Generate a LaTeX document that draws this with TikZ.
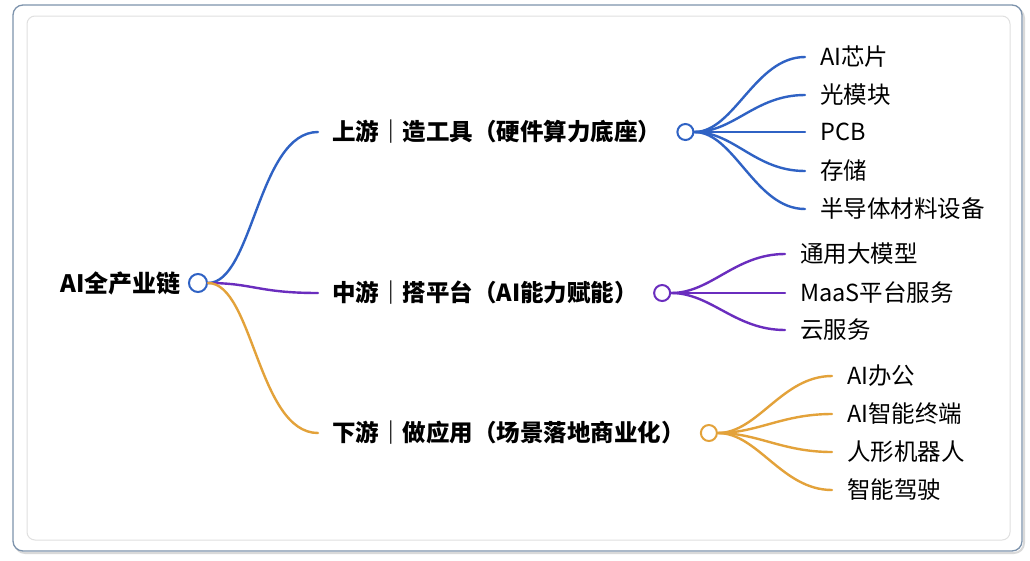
\documentclass[tikz,border=0pt]{standalone}
\usepackage{fontspec}
\setmainfont{Noto Sans CJK SC}
\usetikzlibrary{positioning}
\definecolor{upblue}{HTML}{2F62C4}
\definecolor{midpurple}{HTML}{6A2DBE}
\definecolor{downorange}{HTML}{E3A23A}
\definecolor{frameblue}{HTML}{7D93AC}
\tikzset{
  root/.style={font=\bfseries\fontsize{24}{28}\selectfont, inner sep=0pt},
  branch/.style={font=\bfseries\fontsize{23.5}{28}\selectfont, anchor=west, inner xsep=14pt, inner ysep=0pt},
  leaf/.style={font=\fontsize{23.5}{28}\selectfont, anchor=west, inner xsep=15pt, inner ysep=0pt},
  knot/.style={circle, draw=#1, line width=2pt, fill=white, minimum size=16pt, inner sep=0pt},
  link/.style={draw=#1, line width=2.4pt, line cap=round},
}
\begin{document}
\begin{tikzpicture}[x=1pt,y=-1pt]
    \useasboundingbox (0,0) rectangle (1030,560);
    % frame
    \draw[black!15, line width=2pt, rounded corners=10pt] (15,8) rectangle (1024,553);
    \draw[frameblue, line width=1.3pt, fill=white, rounded corners=10pt] (13,5) rectangle (1022,551);
    \draw[black!12, line width=1pt, rounded corners=8pt] (27,16) rectangle (1010,540);
    % root
    \node[knot=upblue, minimum size=18pt] (rootk) at (198,283) {};
    \node[root, left=7pt of rootk] (root) {AI全产业链};
    % branches
    \node[branch] (up) at (318,132) {上游｜造工具（硬件算力底座）};
    \node[knot=upblue, right=1pt of up] (upk) {};
    \node[branch] (mid) at (318,293) {中游｜搭平台（AI能力赋能）};
    \node[knot=midpurple, right=1pt of mid] (midk) {};
    \node[branch] (down) at (318,433) {下游｜做应用（场景落地商业化）};
    \node[knot=downorange, right=1pt of down] (downk) {};
    \draw[link=upblue] (rootk.east) .. controls +(45,0) and +(-60,0) .. (up.west);
    \draw[link=midpurple] (rootk.east) .. controls +(45,0) and +(-60,0) .. (mid.west);
    \draw[link=downorange] (rootk.east) .. controls +(45,0) and +(-60,0) .. (down.west);
    % upstream leaves
    \node[leaf] (chip) at (805,57) {AI芯片};
    \node[leaf] (optic) at (805,95) {光模块};
    \node[leaf] (pcb) at (805,132) {PCB};
    \node[leaf] (store) at (805,171) {存储};
    \node[leaf] (semi) at (805,209) {半导体材料设备};
    \foreach \leafname in {chip,optic,pcb,store,semi}
        \draw[link=upblue] (upk.east) .. controls +(40,0) and +(-50,0) .. (\leafname.west);
    % midstream leaves
    \node[leaf] (llm) at (785,254) {通用大模型};
    \node[leaf] (maas) at (785,293) {MaaS平台服务};
    \node[leaf] (cloud) at (785,330) {云服务};
    \foreach \leafname in {llm,maas,cloud}
        \draw[link=midpurple] (midk.east) .. controls +(40,0) and +(-50,0) .. (\leafname.west);
    % downstream leaves
    \node[leaf] (office) at (832,376) {AI办公};
    \node[leaf] (device) at (832,414) {AI智能终端};
    \node[leaf] (robot) at (832,452) {人形机器人};
    \node[leaf] (drive) at (832,490) {智能驾驶};
    \foreach \leafname in {office,device,robot,drive}
        \draw[link=downorange] (downk.east) .. controls +(40,0) and +(-50,0) .. (\leafname.west);
\end{tikzpicture}
\end{document}
